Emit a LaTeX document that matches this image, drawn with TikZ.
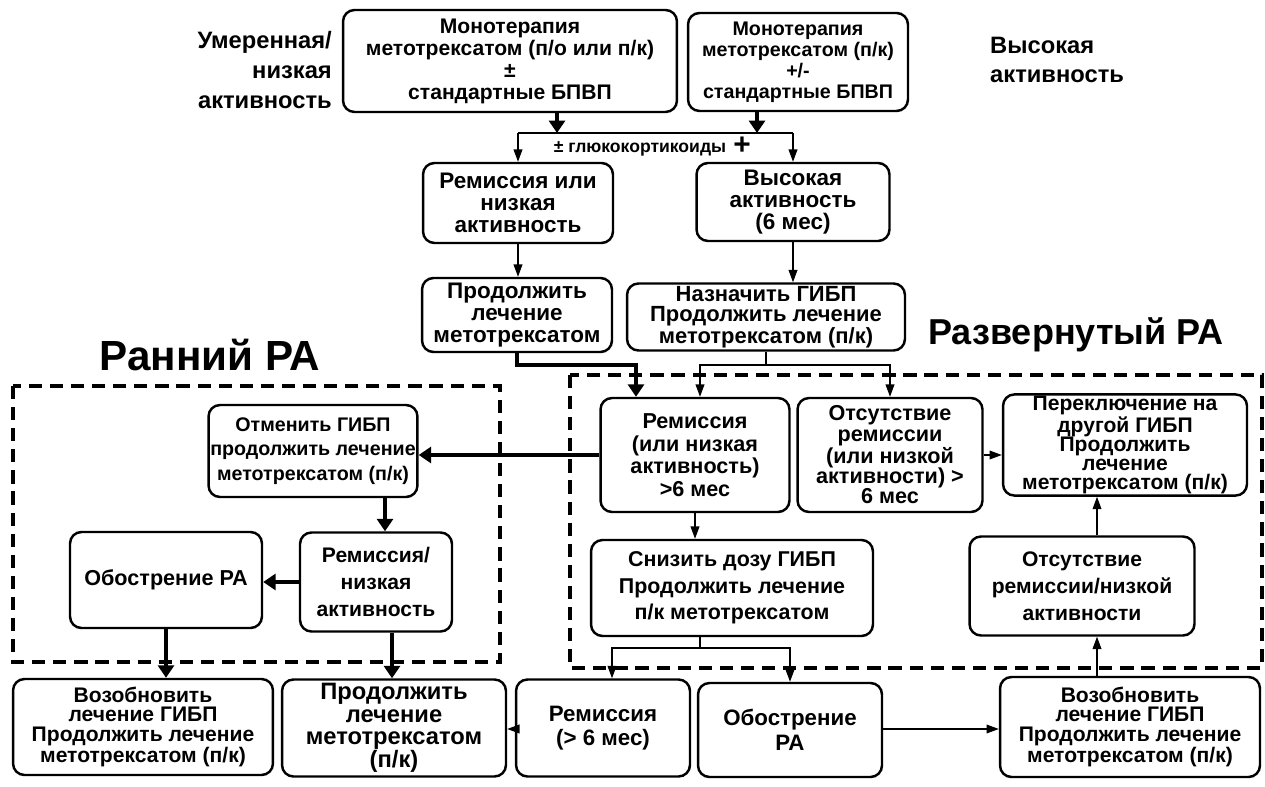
\documentclass[tikz,border=0pt]{standalone}
\usepackage{fontspec}
\setmainfont{Liberation Sans}
\usetikzlibrary{arrows.meta}
\newcommand\wfont[2]{\bfseries\fontsize{#1}{#2}\selectfont}

\begin{document}
\begin{tikzpicture}[x=0.02cm, y=-0.02cm,
      box/.style={draw, line width=1.4pt, rounded corners=6.5pt, align=center, inner sep=1pt, font={\wfont{12}{14}}},
      thinline/.style={line width=0.6pt},
      thinarr/.style={line width=0.6pt, -{Triangle[length=7pt,width=5pt]}},
      thickarr/.style={line width=2.8pt, -{Triangle[length=7pt,width=9pt]}},
      dashbox/.style={line width=1.8pt, dash pattern=on 7.5pt off 4.5pt}]
                  \useasboundingbox (0,0) rectangle (1265,787);
                  \draw[dashbox] (13,386) rectangle (500,662);
                  \draw[dashbox] (570,375) rectangle (1262,668);

                  \node[box, font={\wfont{12}{12.5}}, minimum width=6.68cm, minimum height=2.04cm] (mtxA) at (510,61) {Монотерапия\\метотрексатом (п/о или п/к)\\±\\стандартные БПВП};
                  \node[box, font={\wfont{11.2}{12}}, minimum width=4.4cm, minimum height=1.96cm] (mtxB) at (798,62) {Монотерапия\\метотрексатом (п/к)\\+/-\\стандартные БПВП};
                  \node[font={\wfont{13.5}{17}}, align=right, anchor=east] (modLab) at (338,70) {Умеренная/\\низкая\\активность};
                  \node[font={\wfont{13.5}{17}}, align=left, anchor=west] (highLab) at (984,60) {Высокая\\активность};
                  \node[font={\wfont{10}{10}}] (gcLab) at (640,149) {± глюкокортикоиды};
                  \node[font={\wfont{17}{17}}] (plusLab) at (742,146) {+};

                  \node[box, font={\wfont{12.8}{12.5}}, minimum width=3.8cm, minimum height=1.6cm] (remA) at (518,203) {Ремиссия или\\низкая\\активность};
                  \node[box, font={\wfont{12.8}{12.5}}, minimum width=3.86cm, minimum height=1.56cm] (high) at (793,202) {Высокая\\активность\\(6 мес)};
                  \node[box, font={\wfont{12.8}{12.5}}, minimum width=3.8cm, minimum height=1.48cm] (contA) at (517,315) {Продолжить\\лечение\\метотрексатом};
                  \node[box, font={\wfont{12.5}{11.5}}, minimum width=5.56cm, minimum height=1.34cm] (bio) at (766,317) {Назначить ГИБП\\Продолжить лечение\\метотрексатом (п/к)};

                  \node[font={\wfont{24}{25}}] (earlyRA) at (210,355) {Ранний РА};
                  \node[font={\wfont{20.5}{24}}] (lateRA) at (1076,335) {Развернутый РА};

                  \node[box, font={\wfont{12.3}{12.8}}, minimum width=3.78cm, minimum height=2.28cm] (remB) at (695,455) {Ремиссия\\(или низкая\\активность)\\>6 мес};
                  \node[box, font={\wfont{12.3}{11.5}}, minimum width=3.7cm, minimum height=2.28cm] (noremB) at (890,455) {Отсутствие\\ремиссии\\(или низкой\\активности) >\\6 мес};
                  \node[box, font={\wfont{12}{10.8}}, minimum width=4.88cm, minimum height=1.94cm] (switch) at (1125,445) {Переключение на\\другой ГИБП\\Продолжить\\лечение\\метотрексатом (п/к)};
                  \node[box, font={\wfont{12.2}{15}}, minimum width=5.64cm, minimum height=1.92cm] (reduce) at (732,588) {Снизить дозу ГИБП\\Продолжить лечение\\п/к метотрексатом};
                  \node[box, font={\wfont{12}{15.5}}, minimum width=4.5cm, minimum height=1.98cm] (noremC) at (1082,586) {Отсутствие\\ремиссии/низкой\\активности};

                  \node[box, font={\wfont{11.2}{14}}, minimum width=4.14cm, minimum height=1.84cm] (stopB) at (313,451) {Отменить ГИБП\\продолжить лечение\\метотрексатом (п/к)};
                  \node[box, font={\wfont{12}{15.5}}, minimum width=3.04cm, minimum height=1.98cm] (remE) at (376,582) {Ремиссия/\\низкая\\активность};
                  \node[box, font={\wfont{12.3}{14}}, minimum width=3.84cm, minimum height=1.92cm] (flare) at (166,580) {Обострение РА};

                  \node[box, font={\wfont{12}{11}}, minimum width=5.2cm, minimum height=1.92cm] (resumeL) at (143,727) {Возобновить\\лечение ГИБП\\Продолжить лечение\\метотрексатом (п/к)};
                  \node[box, font={\wfont{13.5}{12.8}}, minimum width=4.48cm, minimum height=1.94cm] (contB) at (394,728) {Продолжить\\лечение\\метотрексатом\\(п/к)};
                  \node[box, font={\wfont{12.7}{14}}, minimum width=3.48cm, minimum height=1.94cm] (remC) at (603,728) {Ремиссия\\(> 6 мес)};
                  \node[box, font={\wfont{12.7}{14}}, minimum width=3.68cm, minimum height=1.88cm] (flareB) at (790,730) {Обострение\\РА};
                  \node[box, font={\wfont{12}{11}}, minimum width=5.2cm, minimum height=2cm] (resumeR) at (1130,727) {Возобновить\\лечение ГИБП\\Продолжить лечение\\метотрексатом (п/к)};

                  \coordinate (forkA) at (557,133);
                  \coordinate (forkB) at (757,133);
                  \coordinate (bendA) at (636,365);
                  \coordinate (forkC) at (700,365);
                  \coordinate (forkD) at (890,365);
                  \coordinate (stemX) at (700,648);
                  \coordinate (forkE) at (612,648);
                  \coordinate (forkF) at (790,648);
                  \coordinate (riseX) at (1097,0);
                  \coordinate (dropX) at (385,0);
                  \coordinate (dropY) at (392,0);
                  \coordinate (sideY) at (0,729);

                  \draw[thickarr, line width=2pt] (mtxA.south -| forkA) -- (forkA);
                  \draw[thickarr, line width=2pt] (mtxB.south -| forkB) -- (forkB);
                  \draw[thinline] (remA.north |- forkA) -- (high.north |- forkA);
                  \draw[thinarr] (remA.north |- forkA) -- (remA.north);
                  \draw[thinarr] (high.north |- forkA) -- (high.north);
                  \draw[thinarr] (remA.south) -- (remA.south |- contA.north);
                  \draw[thinarr] (high.south) -- (high.south |- bio.north);
                  \draw[thickarr, line width=2.2pt] (contA.south) |- (bendA) -- (bendA |- remB.north);
                  \draw[thinarr] (bio.south) |- (forkC) -- (forkC |- remB.north);
                  \draw[thinarr] (bio.south) |- (forkD) -- (forkD |- noremB.north);
                  \draw[thinarr] (noremB.east) -- (noremB.east -| switch.west);
                  \draw[thinarr] (remB.south) -- (remB.south |- reduce.north);
                  \draw[thinarr] (noremC.north -| riseX) -- (switch.south -| riseX);
                  \draw[thinarr] (resumeR.north -| riseX) -- (noremC.south -| riseX);
                  \draw[thinline] (reduce.south -| stemX) -- (stemX);
                  \draw[thinarr] (stemX) -| (forkE |- remC.north);
                  \draw[thinarr] (stemX) -| (forkF |- flareB.north);
                  \draw[thinarr] (remC.west |- sideY) -- (contB.east |- sideY);
                  \draw[thinarr] (flareB.east |- sideY) -- (resumeR.west |- sideY);
                  \draw[thickarr] (remB.west) -- (remB.west -| stopB.east);
                  \draw[thickarr] (stopB.south -| dropX) -- (remE.north -| dropX);
                  \draw[thickarr] (remE.west) -- (remE.west -| flare.east);
                  \draw[thickarr] (flare.south) -- (flare.south |- resumeL.north);
                  \draw[thickarr] (remE.south -| dropY) -- (contB.north -| dropY);
            \end{tikzpicture}
\end{document}
